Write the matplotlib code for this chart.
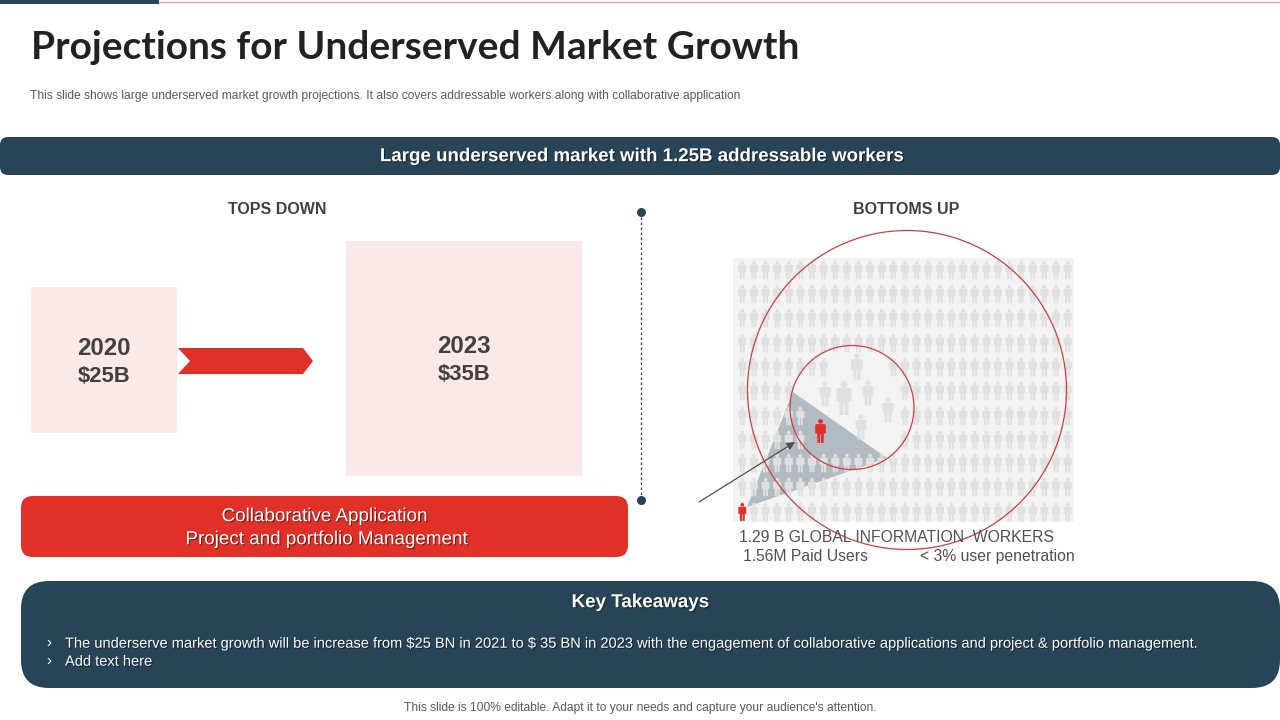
import numpy as np
import matplotlib
matplotlib.use("Agg")
import matplotlib.pyplot as plt
from matplotlib.patches import FancyBboxPatch, Rectangle, Polygon, Circle, PathPatch
from matplotlib.path import Path
import matplotlib.patheffects as pe

NAVY = "#284558"
RED = "#e03028"
PINK = "#fce8e8"
GRID_GREY = "#e0e0e0"
BG_GREY = "#f3f3f3"
DARK = "#404040"

title = "Projections for Underserved Market Growth"
subtitle = ("This slide shows large underserved market growth projections. "
            "It also covers addressable workers along with collaborative application")
banner = "Large underserved market with 1.25B addressable workers"
years = ["2020", "2023"]
market_values = [r"\$25B", r"\$35B"]
section_labels = ["TOPS DOWN", "BOTTOMS UP"]
collab_lines = ["Collaborative Application", "Project and portfolio Management"]
takeaway_heading = "Key Takeaways"
takeaways = [r"The underserve market growth will be increase from \$25 BN in 2021 to \$ 35 BN in 2023 "
             "with the engagement of collaborative applications and project & portfolio management.",
             "Add text here"]
worker_lines = ["1.29 B GLOBAL INFORMATION  WORKERS", "1.56M Paid Users", "< 3% user penetration"]
footer = "This slide is 100% editable. Adapt it to your needs and capture your audience's attention."

grid_rows = [270, 294, 318, 343, 367, 391, 416, 440, 463, 487, 512]
grid_cols = [742.3 + 11.62 * i for i in range(29)]
blank_spans = {367: (828, 888), 391: (797, 900), 416: (807, 900), 440: (805, 900)}
big_people = [(857, 367, 27), (844, 398, 34), (825, 394, 25), (868, 393, 25),
              (888, 410, 25), (861, 427, 25)]

fig = plt.figure(figsize=(12.8, 7.2), dpi=100)
ax = fig.add_axes([0, 0, 1, 1])
ax.set_xlim(0, 1280)
ax.set_ylim(720, 0)
ax.axis("off")
SANS = ["Liberation Sans", "DejaVu Sans"]


def box(x0, y0, x1, y1, color, r=0, z=2):
    if r:
        ax.add_patch(FancyBboxPatch((x0, y0), x1 - x0, y1 - y0, boxstyle=f"round,pad=0,rounding_size={r}",
                                    fc=color, ec="none", zorder=z))
    else:
        ax.add_patch(Rectangle((x0, y0), x1 - x0, y1 - y0, fc=color, ec="none", zorder=z))


def txt(x, y, s, px, color=DARK, ha="center", weight="normal", family=SANS, shadow=False, z=10):
    t = ax.text(x, y + 0.7, s, fontsize=px * 0.72, color=color, ha=ha, va="center", fontweight=weight,
                family=family, zorder=z)
    if shadow:
        t.set_path_effects([pe.withSimplePatchShadow(offset=(0.8, -0.8), shadow_rgbFace="#000000", alpha=0.45)])
    return t


def person(cx, cy, h, color, z=4):
    s = h
    w = 0.22
    verts = [(-w, -0.26), (-0.15, -0.29), (0.15, -0.29), (w, -0.26), (w, 0.10), (0.14, 0.10),
             (0.13, 0.50), (0.02, 0.50), (0.02, 0.14), (-0.02, 0.14), (-0.02, 0.50), (-0.13, 0.50),
             (-0.14, 0.10), (-w, 0.10), (-w, -0.26)]
    codes = [Path.MOVETO] + [Path.LINETO] * (len(verts) - 1)
    body = Path(verts, codes)
    head = Path.circle((0, -0.40), 0.10)
    p = Path.make_compound_path(body, head)
    p = Path(p.vertices * s + np.array([cx, cy]), p.codes)
    ax.add_patch(PathPatch(p, fc=color, ec="none", lw=0, zorder=z))


# top rule
box(159, 1.6, 1280, 3, "#e58f8a", z=1)
box(0, 0, 159, 3.6, NAVY)

txt(31, 47, title, 38.9, color="#222222", ha="left", weight="bold", family=["Lato", "DejaVu Sans"])
txt(30, 95, subtitle, 12.05, color="#595959", ha="left")

box(0, 137, 1280, 175, NAVY, r=8)
txt(640, 156, banner, 18.7, color="white", weight="bold", shadow=True)

txt(277, 209, section_labels[0], 16, weight="bold")
txt(906, 209, section_labels[1], 16, weight="bold")

# year boxes
box(31, 287, 177, 433, PINK)
box(346, 241, 582, 476, PINK)
txt(104, 348, years[0], 24, weight="bold")
txt(104, 376, market_values[0], 22, weight="bold")
txt(464, 346, years[1], 24, weight="bold")
txt(464, 374, market_values[1], 22, weight="bold")
ax.add_patch(Polygon([(178, 348), (303, 348), (313, 361), (303, 374), (178, 374), (190, 361)],
                     fc=RED, ec="none", zorder=3))

# divider
ax.plot([641, 641], [212, 500], color=NAVY, lw=0.9, ls=(0, (2, 2)), zorder=3)
ax.plot([641, 641], [212, 500], ls="none", marker="o", ms=5.5, color=NAVY, zorder=4)

# collaborative box
box(21, 496, 628, 557, RED, r=12)
txt(324, 516, collab_lines[0], 18.8, color="white", shadow=True)
txt(326, 539, collab_lines[1], 18.8, color="white", shadow=True)

# people field
box(733, 258, 1074, 522, BG_GREY, z=2)
ax.add_patch(Polygon([(747, 507), (793, 392), (887, 458)], fc="#b2bbc3", ec="none", zorder=2.5))
for y in grid_rows:
    for x in grid_cols:
        if y in blank_spans and blank_spans[y][0] < x < blank_spans[y][1]:
            continue
        if y == grid_rows[-1] and x == grid_cols[0]:
            continue
        person(x, y, 18.5, GRID_GREY, z=3)
for x, y, h in big_people:
    person(x, y, h, GRID_GREY, z=3)
person(820.5, 431, 24, RED, z=6)
person(742.3, 512, 18, RED, z=6)
ax.add_patch(Circle((852, 407.5), 62, fc="none", ec="#c9413c", lw=0.9, zorder=7))
ax.add_patch(Circle((907, 390), 159.5, fc="none", ec="#c9413c", lw=0.9, zorder=7))
ax.annotate("", xy=(795, 442), xytext=(699, 502),
            arrowprops=dict(arrowstyle="-|>", color="#505050", lw=0.9, mutation_scale=12, shrinkA=0, shrinkB=0),
            zorder=8)
txt(739, 537, worker_lines[0], 15.7, color="#505050", ha="left")
txt(743, 556, worker_lines[1], 15.7, color="#505050", ha="left")
txt(1075, 556, worker_lines[2], 15.7, color="#505050", ha="right")

# key takeaways
box(21, 581, 1280, 688, NAVY, r=28)
txt(640, 602, takeaway_heading, 18.8, color="white", weight="bold", shadow=True)
for y, s in zip([643, 661], takeaways):
    txt(46, y - 1, "\u203a", 15, color="white", ha="left")
    txt(65, y, s, 14.66, color="white", ha="left", shadow=True)

txt(640, 707, footer, 12, color="#595959")

fig.savefig("out.png", dpi=100, facecolor="white")
